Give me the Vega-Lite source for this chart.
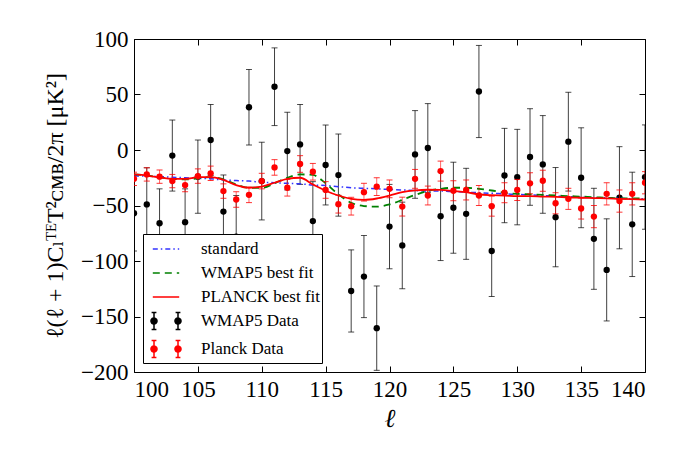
{
  "$schema": "https://vega.github.io/schema/vega-lite/v6.json",
  "width": 511,
  "height": 333,
  "autosize": {"type": "none"},
  "padding": {"left": 134, "top": 39, "right": 47, "bottom": 89},
  "background": "white",
  "data": {
    "values": [
      {"l": 100, "w": -57, "we": 34, "p": -26, "pe": 6, "s": -23.5, "g": -22, "r": -22},
      {"l": 101, "w": -49, "we": 33, "p": -22, "pe": 6, "s": -23.5, "g": -23, "r": -23},
      {"l": 102, "w": -66, "we": 31, "p": -24, "pe": 6, "s": -24, "g": -24.5, "r": -24.7},
      {"l": 103, "w": -5, "we": 32, "p": -28, "pe": 6, "s": -24.5, "g": -26, "r": -26},
      {"l": 104, "w": -65, "we": 30, "p": -31.6, "pe": 6, "s": -25, "g": -26.5, "r": -26},
      {"l": 105, "w": -24, "we": 33, "p": -23.5, "pe": 6.5, "s": -25.5, "g": -25.5, "r": -24.5},
      {"l": 106, "w": 9, "we": 32, "p": -21, "pe": 6.5, "s": -26, "g": -24.5, "r": -24.4},
      {"l": 107, "w": -55.5, "we": 33, "p": -37, "pe": 6.5, "s": -27, "g": -26.5, "r": -27},
      {"l": 108, "w": -78, "we": 37, "p": -44.6, "pe": 7, "s": -27.5, "g": -31, "r": -31.6},
      {"l": 109, "w": 38.5, "we": 34, "p": -40.4, "pe": 7, "s": -28, "g": -34, "r": -34},
      {"l": 110, "w": -28, "we": 35, "p": -28, "pe": 7, "s": -29, "g": -34, "r": -33},
      {"l": 111, "w": 57, "we": 35, "p": -15.7, "pe": 7, "s": -29.5, "g": -30, "r": -29.5},
      {"l": 112, "w": -1, "we": 35, "p": -34, "pe": 7.5, "s": -30, "g": -25, "r": -26},
      {"l": 113, "w": 5, "we": 36, "p": -12.6, "pe": 7.5, "s": -30.5, "g": -22, "r": -25},
      {"l": 114, "w": -64, "we": 35.5, "p": -19.6, "pe": 7.5, "s": -31.5, "g": -22.5, "r": -31},
      {"l": 115, "w": -13.5, "we": 36, "p": -36, "pe": 7.5, "s": -32, "g": -30, "r": -36.7},
      {"l": 116, "w": -22.6, "we": 37, "p": -48.8, "pe": 8, "s": -33, "g": -40, "r": -41},
      {"l": 117, "w": -127, "we": 37, "p": -50.6, "pe": 8, "s": -34, "g": -47.5, "r": -44},
      {"l": 118, "w": -114, "we": 37, "p": -38, "pe": 8, "s": -34.5, "g": -50.5, "r": -45},
      {"l": 119, "w": -160.5, "we": 38, "p": -33, "pe": 8, "s": -35, "g": -51, "r": -43.7},
      {"l": 120, "w": -69, "we": 38, "p": -35, "pe": 8, "s": -35.5, "g": -49, "r": -41},
      {"l": 121, "w": -86, "we": 39, "p": -51, "pe": 8.5, "s": -36, "g": -45, "r": -38},
      {"l": 122, "w": -4, "we": 39.5, "p": -26, "pe": 8.5, "s": -36.5, "g": -40.5, "r": -36.4},
      {"l": 123, "w": 1.8, "we": 40, "p": -41, "pe": 8.5, "s": -37, "g": -37, "r": -35.8},
      {"l": 124, "w": -59.6, "we": 40, "p": -19, "pe": 9, "s": -37, "g": -35, "r": -36},
      {"l": 125, "w": -52, "we": 41, "p": -36.7, "pe": 9, "s": -37.5, "g": -34, "r": -37},
      {"l": 126, "w": -57.5, "we": 41, "p": -36, "pe": 9, "s": -38, "g": -34, "r": -38},
      {"l": 127, "w": 52.7, "we": 41.5, "p": -41, "pe": 9, "s": -38.5, "g": -35, "r": -40},
      {"l": 128, "w": -91, "we": 41, "p": -50.6, "pe": 9, "s": -39, "g": -36.5, "r": -40.7},
      {"l": 129, "w": -23, "we": 42.5, "p": -38.5, "pe": 9, "s": -39.5, "g": -38.5, "r": -41},
      {"l": 130, "w": -24.4, "we": 43, "p": -36, "pe": 9.5, "s": -40, "g": -39.5, "r": -41.6},
      {"l": 131, "w": -6.3, "we": 43.5, "p": -30, "pe": 9.5, "s": -40.5, "g": -40, "r": -41.6},
      {"l": 132, "w": -13, "we": 44, "p": -27.7, "pe": 9.5, "s": -41, "g": -40.5, "r": -42},
      {"l": 133, "w": -60.5, "we": 44.7, "p": -48, "pe": 9.5, "s": -41.5, "g": -41, "r": -42.2},
      {"l": 134, "w": 7.5, "we": 44.5, "p": -44, "pe": 9.5, "s": -42, "g": -41.5, "r": -42.8},
      {"l": 135, "w": -25, "we": 45, "p": -52.7, "pe": 9.5, "s": -42.5, "g": -42, "r": -43},
      {"l": 136, "w": -80, "we": 45.5, "p": -60, "pe": 10, "s": -43, "g": -42.5, "r": -43.3},
      {"l": 137, "w": -108, "we": 46, "p": -39.5, "pe": 10, "s": -43, "g": -43, "r": -43.5},
      {"l": 138, "w": -43, "we": 46, "p": -46, "pe": 10, "s": -43.5, "g": -43.5, "r": -44},
      {"l": 139, "w": -67, "we": 47, "p": -39.5, "pe": 10, "s": -44, "g": -43.5, "r": -44.3},
      {"l": 140, "w": -24.4, "we": 47, "p": -29.5, "pe": 10, "s": -44, "g": -44, "r": -44.6}
    ]
  },
  "resolve": {"axis": {"x": "independent", "y": "independent"}},
  "layer": [
    {
      "mark": {"type": "errorbar", "ticks": {"size": 6, "color": "black"}, "rule": {"color": "black", "strokeWidth": 1, "opacity": 0.75}, "clip": true},
      "encoding": {
        "x": {
          "field": "l", "type": "quantitative",
          "scale": {"domain": [100, 140], "nice": false, "zero": false},
          "axis": {"orient": "bottom", "values": [100, 105, 110, 115, 120, 125, 130, 135, 140], "title": "ℓ", "titleFontStyle": "italic", "titleFontSize": 26, "titleFontWeight": "normal", "titlePadding": 4, "labelPadding": 12}
        },
        "y": {
          "field": "w", "type": "quantitative",
          "scale": {"domain": [-200, 100], "nice": false, "zero": false},
          "axis": {"orient": "left", "values": [-200, -150, -100, -50, 0, 50, 100], "title": "ℓ(ℓ + 1)CₗᵀᴱT²ᴄᴍʙ/2π [μK²]", "titleFontSize": 24, "titleFontWeight": "normal", "titlePadding": 13, "labelPadding": 12}
        },
        "yError": {"field": "we"}
      }
    },
    {
      "mark": {"type": "point", "filled": true, "size": 40, "opacity": 1, "color": "black", "clip": true},
      "encoding": {
        "x": {"field": "l", "type": "quantitative", "axis": null},
        "y": {"field": "w", "type": "quantitative", "axis": null}
      }
    },
    {
      "mark": {"type": "line", "color": "#3333ff", "strokeWidth": 1.5, "strokeDash": [5, 3, 1.5, 3], "interpolate": "monotone", "clip": true},
      "encoding": {
        "x": {"field": "l", "type": "quantitative", "axis": {"orient": "top", "labels": false, "title": null, "values": [100, 105, 110, 115, 120, 125, 130, 135, 140]}},
        "y": {"field": "s", "type": "quantitative", "axis": {"orient": "right", "labels": false, "title": null, "values": [-200, -150, -100, -50, 0, 50, 100]}}
      }
    },
    {
      "mark": {"type": "line", "color": "green", "strokeWidth": 1.8, "strokeDash": [7, 5], "interpolate": "monotone", "clip": true},
      "encoding": {
        "x": {"field": "l", "type": "quantitative", "axis": null},
        "y": {"field": "g", "type": "quantitative", "axis": null}
      }
    },
    {
      "mark": {"type": "line", "color": "red", "strokeWidth": 1.8, "interpolate": "monotone", "clip": true},
      "encoding": {
        "x": {"field": "l", "type": "quantitative", "axis": null},
        "y": {"field": "r", "type": "quantitative", "axis": null}
      }
    },
    {
      "mark": {"type": "errorbar", "ticks": {"size": 6, "color": "red", "opacity": 0.8}, "rule": {"color": "red", "strokeWidth": 1, "opacity": 0.6}, "clip": true},
      "encoding": {
        "x": {"field": "l", "type": "quantitative", "axis": null},
        "y": {"field": "p", "type": "quantitative", "axis": null},
        "yError": {"field": "pe"}
      }
    },
    {
      "mark": {"type": "point", "filled": true, "size": 40, "opacity": 1, "color": "red", "clip": true},
      "encoding": {
        "x": {"field": "l", "type": "quantitative", "axis": null},
        "y": {"field": "p", "type": "quantitative", "axis": null}
      }
    },
    {
      "transform": [{"filter": "false"}],
      "mark": {"type": "point", "opacity": 1, "strokeWidth": 1.5},
      "encoding": {
        "x": {"field": "l", "type": "quantitative", "axis": null},
        "y": {"field": "p", "type": "quantitative", "axis": null},
        "fill": {
          "datum": "standard",
          "scale": {"domain": ["standard", "WMAP5 best fit", "PLANCK best fit", "WMAP5 Data", "Planck Data"], "range": ["transparent", "transparent", "transparent", "black", "red"]},
          "legend": {"orient": "bottom-left", "title": null}
        },
        "stroke": {
          "datum": "standard",
          "scale": {"domain": ["standard", "WMAP5 best fit", "PLANCK best fit", "WMAP5 Data", "Planck Data"], "range": ["#3333ff", "green", "red", "black", "red"]},
          "legend": {"orient": "bottom-left", "title": null}
        },
        "strokeDash": {
          "datum": "standard",
          "scale": {"domain": ["standard", "WMAP5 best fit", "PLANCK best fit", "WMAP5 Data", "Planck Data"], "range": [[5, 3, 1.5, 3], [7, 5], [1, 0], [1, 0], [1, 0]]},
          "legend": {"orient": "bottom-left", "title": null}
        },
        "shape": {
          "datum": "standard",
          "scale": {
            "domain": ["standard", "WMAP5 best fit", "PLANCK best fit", "WMAP5 Data", "Planck Data"],
            "range": [
              "M-1.1,0H1.1",
              "M-1.1,0H1.1",
              "M-1.1,0H1.1",
              "M-1,-0.7V0.7M-1.2,-0.7H-0.8M-1.2,0.7H-0.8M1,-0.7V0.7M0.8,-0.7H1.2M0.8,0.7H1.2M-1.25,0A0.25,0.25 0 1,0 -0.75,0A0.25,0.25 0 1,0 -1.25,0ZM0.75,0A0.25,0.25 0 1,0 1.25,0A0.25,0.25 0 1,0 0.75,0Z",
              "M-1,-0.7V0.7M-1.2,-0.7H-0.8M-1.2,0.7H-0.8M1,-0.7V0.7M0.8,-0.7H1.2M0.8,0.7H1.2M-1.25,0A0.25,0.25 0 1,0 -0.75,0A0.25,0.25 0 1,0 -1.25,0ZM0.75,0A0.25,0.25 0 1,0 1.25,0A0.25,0.25 0 1,0 0.75,0Z"
            ]
          },
          "legend": {"orient": "bottom-left", "title": null}
        }
      }
    }
  ],
  "config": {
    "view": {"stroke": "black", "strokeWidth": 1},
    "legend": {
      "offset": 9,
      "fillColor": "white",
      "strokeColor": "black",
      "padding": 2,
      "symbolSize": 576,
      "symbolOffset": 8,
      "symbolStrokeWidth": 1.5,
      "symbolOpacity": 1,
      "rowPadding": 3,
      "labelOffset": 22,
      "labelFont": "Liberation Serif",
      "labelFontSize": 17,
      "labelColor": "black",
      "labelLimit": 300
    },
    "axis": {
      "domain": false,
      "grid": false,
      "tickColor": "black",
      "tickSize": -6,
      "tickWidth": 1,
      "labelFont": "Liberation Serif",
      "labelFontSize": 23,
      "labelColor": "black",
      "titleFont": "Liberation Serif, DejaVu Serif",
      "titleColor": "black"
    }
  }
}
